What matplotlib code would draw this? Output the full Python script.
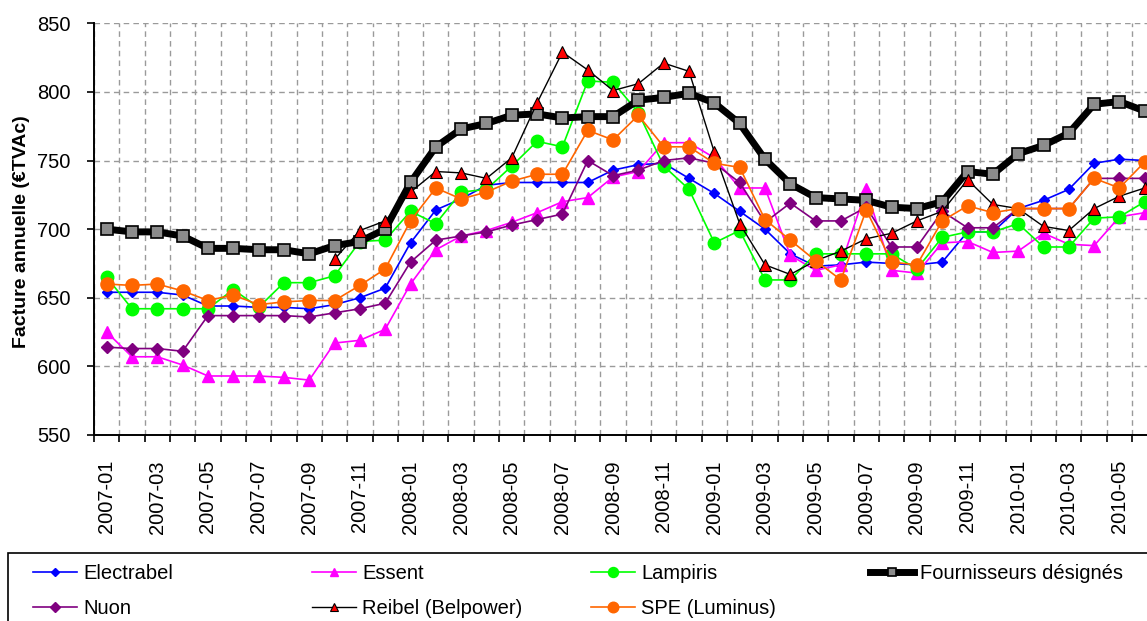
import numpy as np
import matplotlib
matplotlib.use("Agg")
import matplotlib.pyplot as plt
from matplotlib.lines import Line2D
from matplotlib.patches import Rectangle

plt.rcParams['font.family'] = ['Liberation Sans', 'DejaVu Sans']

months = ["2007-01", "2007-02", "2007-03", "2007-04", "2007-05", "2007-06",
          "2007-07", "2007-08", "2007-09", "2007-10", "2007-11", "2007-12",
          "2008-01", "2008-02", "2008-03", "2008-04", "2008-05", "2008-06",
          "2008-07", "2008-08", "2008-09", "2008-10", "2008-11", "2008-12",
          "2009-01", "2009-02", "2009-03", "2009-04", "2009-05", "2009-06",
          "2009-07", "2009-08", "2009-09", "2009-10", "2009-11", "2009-12",
          "2010-01", "2010-02", "2010-03", "2010-04", "2010-05", "2010-06"]

electrabel = [654, 654, 654, 652, 644, 644, 643, 643, 642, 645, 650, 657,
              690, 714, 722, 732, 734, 734, 734, 734, 743, 747, 748, 737,
              726, 713, 700, 682, 673, 674, 676, 675, 674, 676, 698, 698,
              715, 721, 729, 748, 751, 750]
essent = [625, 607, 607, 601, 593, 593, 593, 592, 590, 617, 619, 627,
          660, 685, 695, 699, 705, 712, 720, 723, 738, 742, 763, 763,
          752, 730, 730, 681, 670, 674, 729, 670, 668, 690, 691, 683,
          684, 697, 689, 688, 709, 712]
lampiris = [665, 642, 642, 642, 642, 656, 643, 661, 661, 666, 691, 692,
            713, 704, 727, 729, 746, 764, 760, 808, 807, 785, 746, 729,
            690, 699, 663, 663, 682, 682, 682, 682, 671, 694, 698, 698,
            704, 687, 687, 708, 709, 720]
fournisseurs = [700, 698, 698, 695, 686, 686, 685, 685, 682, 688, 691, 700,
                734, 760, 773, 777, 783, 784, 781, 782, 782, 794, 796, 799,
                792, 777, 751, 733, 723, 722, 721, 716, 715, 720, 742, 740,
                755, 761, 770, 791, 793, 786]
nuon = [614, 613, 613, 611, 637, 637, 637, 637, 636, 639, 642, 646,
        676, 692, 695, 698, 703, 707, 711, 750, 739, 743, 750, 752,
        748, 734, 705, 719, 706, 706, 716, 687, 687, 713, 701, 701,
        715, 715, 715, 737, 737, 737]
reibel = [np.nan] * 9 + [678, 699, 706,
          727, 742, 741, 737, 752, 792, 829, 816, 801, 806, 821, 815,
          756, 704, 674, 667, 677, 684, 693, 697, 706, 713, 736, 718,
          715, 702, 699, 715, 724, 730]
spe = [660, 659, 660, 655, 648, 652, 645, 647, 648, 648, 659, 671,
       706, 730, 722, 727, 735, 740, 740, 772, 765, 783, 760, 760,
       748, 745, 707, 692, 677, 663, 714, 676, 674, 706, 717, 712,
       715, 715, 715, 737, 730, 749]

series = [
    ("Electrabel", electrabel, dict(color="#0000FF", lw=1.2, marker="D", ms=5.5,
                                    mfc="#0000FF", mec="#0000FF")),
    ("Essent", essent, dict(color="#FF00FF", lw=1.2, marker="^", ms=8,
                            mfc="#FF00FF", mec="#FF00FF")),
    ("Lampiris", lampiris, dict(color="#00FF00", lw=1.2, marker="o", ms=9,
                                mfc="#00FF00", mec="#00FF00")),
    ("Fournisseurs désignés", fournisseurs, dict(color="black", lw=5, marker="s", ms=8,
                                                 mfc="#8C8C8C", mec="black", mew=1.2)),
    ("Nuon", nuon, dict(color="#800080", lw=1.2, marker="D", ms=6.5,
                        mfc="#800080", mec="#800080")),
    ("Reibel (Belpower)", reibel, dict(color="black", lw=1.0, marker="^", ms=8,
                                       mfc="#FF0000", mec="black", mew=0.8)),
    ("SPE (Luminus)", spe, dict(color="#FF6600", lw=1.2, marker="o", ms=9.5,
                                mfc="#FF6600", mec="#FF6600")),
]

W, H = 1147, 621
fig = plt.figure(figsize=(W / 100, H / 100), dpi=100)
x_left = 94.0
step = 25.32
x_right = x_left + 42 * step
y_top, y_bot = 23.3, 435.0
ax = fig.add_axes([x_left / W, (H - y_bot) / H, (x_right - x_left) / W, (y_bot - y_top) / H])

x = np.arange(len(months))
handles = {}
for i, (name, vals, st) in enumerate(series):
    h, = ax.plot(x, vals, label=name, zorder=3 + i, clip_on=False, **st)
    handles[name] = h

ax.set_xlim(-0.5, len(months) - 0.5)
ax.set_ylim(550, 850)
ax.set_yticks(np.arange(550, 851, 50))
ax.set_xticks(x[::2])
ax.set_xticklabels(months[::2], rotation=90)
ax.set_xticks(np.arange(-0.5, len(months), 1), minor=True)
ax.tick_params(axis='x', which='major', length=0, pad=18, labelsize=14.5)
ax.tick_params(axis='x', which='minor', length=5, width=1.2, direction='out')
ax.tick_params(axis='y', which='major', length=5, width=1.2, direction='out', pad=12,
               labelsize=14.5)
grid_kw = dict(color="#9A9A9A", linestyle=(0, (4, 3)), linewidth=1.0)
ax.grid(which='minor', axis='x', **grid_kw)
ax.grid(which='major', axis='y', **grid_kw)
ax.grid(which='major', axis='x', visible=False)
ax.set_axisbelow(True)
for s in ("top", "right"):
    ax.spines[s].set_visible(False)
for s in ("left", "bottom"):
    ax.spines[s].set_linewidth(1.4)
    ax.spines[s].set_zorder(20)

fig.text(21.7 / W, 1 - 232 / H, "Facture annuelle (€TVAc)", rotation=90,
         ha="center", va="center", fontsize=14, fontweight="bold")

# legend frame
fig.patches.append(Rectangle((8 / W, -0.1), 1.2, (H - 553) / H + 0.1,
                             transform=fig.transFigure, fill=False, ec="black",
                             lw=1.2, zorder=1))
cols = [["Electrabel", "Nuon"], ["Essent", "Reibel (Belpower)"],
        ["Lampiris", "SPE (Luminus)"], ["Fournisseurs désignés"]]
col_x = [33, 312, 591, 870]
for cx, names in zip(col_x, cols):
    leg = fig.legend([handles[n] for n in names], names, loc="upper left",
                     bbox_to_anchor=(cx / W, 1 - 564 / H), frameon=False,
                     borderpad=0, borderaxespad=0, handlelength=2.2,
                     handletextpad=0.3, labelspacing=0.8, fontsize=14.5,
                     markerscale=0.8)

fig.savefig("out.png", dpi=100)
